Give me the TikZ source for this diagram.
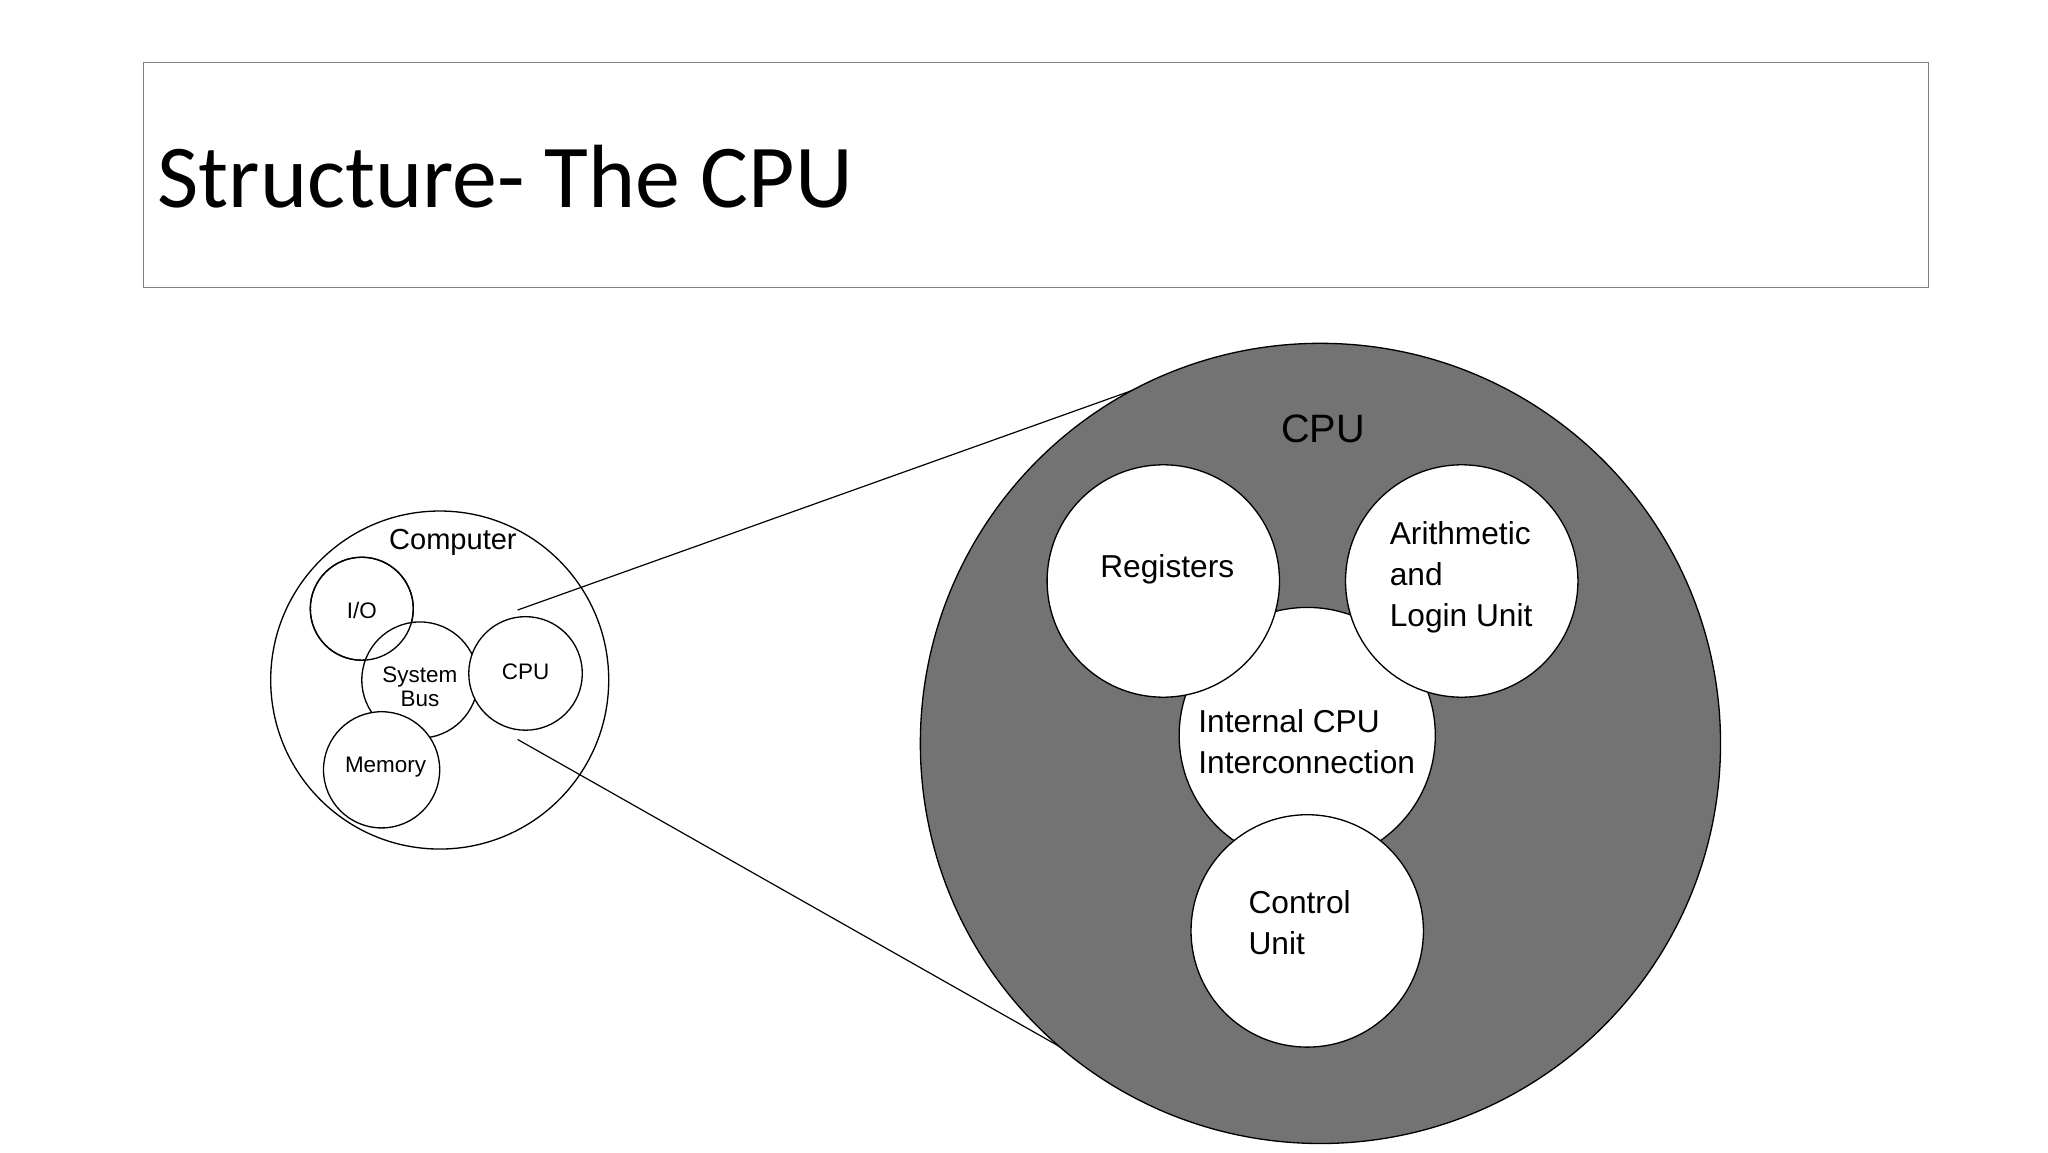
\documentclass[tikz,border=0pt]{standalone}
\usepackage{fontspec}
\setmainfont{Liberation Sans}
\newfontfamily\titlefont{Carlito}
\begin{document}
\begin{tikzpicture}[x=1pt,y=-1pt,
  circ/.style={draw=black,line width=1pt,fill=white},
  lbl/.style={font=\fontsize{24}{31}\selectfont,align=left},
  sm/.style={font=\fontsize{17}{20}\selectfont,align=center}]
\useasboundingbox (0,0) rectangle (1551,873);
\node[draw=black!50,line width=0.8pt,minimum width=1352pt,minimum height=170pt,anchor=north west,inner sep=0] (title) at (108,47) {};
\node[anchor=base west,font=\titlefont\fontsize{68}{80}\selectfont,inner sep=0] (tt) at (119,157) {Structure- The CPU};
% computer
\node[circ,circle,minimum size=256pt,inner sep=0] (comp) at (333,515) {};
\node[font=\fontsize{22}{26}\selectfont] (complbl) at (343,411) {Computer};
\node[circ,circle,minimum size=78pt,inner sep=0] (io) at (274,461) {};
\node[circ,circle,minimum size=88pt,inner sep=0] (bus) at (318,515) {};
\node[circ,circle,minimum size=86pt,inner sep=0] (cpus) at (398,510) {};
\node[circ,circle,minimum size=88pt,inner sep=0] (mem) at (289,583) {};
\node[draw=black,line width=1pt,circle,minimum size=78pt,inner sep=0] at (274,461) {};
\node[sm] at (274,462) {I/O};
\node[sm] at (318,520) {System\\[-2pt]Bus};
\node[sm] at (398,509) {CPU};
\node[sm] at (292,581) {Memory};
% big cpu
\coordinate (t1) at (392,462);
\coordinate (t2) at (392,560);
\coordinate (b1) at (893,283);
\coordinate (b2) at (872,832);
\draw[line width=0.9pt] (t1) -- (b1);
\draw[line width=0.9pt] (t2) -- (b2);
\node[draw=black,line width=1pt,circle,fill=black!55,minimum size=606pt,inner sep=0] (big) at (1000,563) {};
\node[font=\fontsize{30}{36}\selectfont] (cpul) at (1002,325) {CPU};
\node[circ,circle,minimum size=194pt,inner sep=0] (icc) at (990,557) {};
\node[circ,circle,minimum size=176pt,inner sep=0] (reg) at (881,440) {};
\node[circ,circle,minimum size=176pt,inner sep=0] (alu) at (1107,440) {};
\node[circ,circle,minimum size=176pt,inner sep=0] (cu) at (990,705) {};
\node[lbl] at (884,431) {Registers};
\node[lbl,anchor=west] at (1049,437) {Arithmetic\\and\\Login Unit};
\node[lbl,anchor=west] at (904,562) {Internal CPU\\Interconnection};
\node[lbl,anchor=west] at (942,699) {Control\\Unit};
\end{tikzpicture}
\end{document}
